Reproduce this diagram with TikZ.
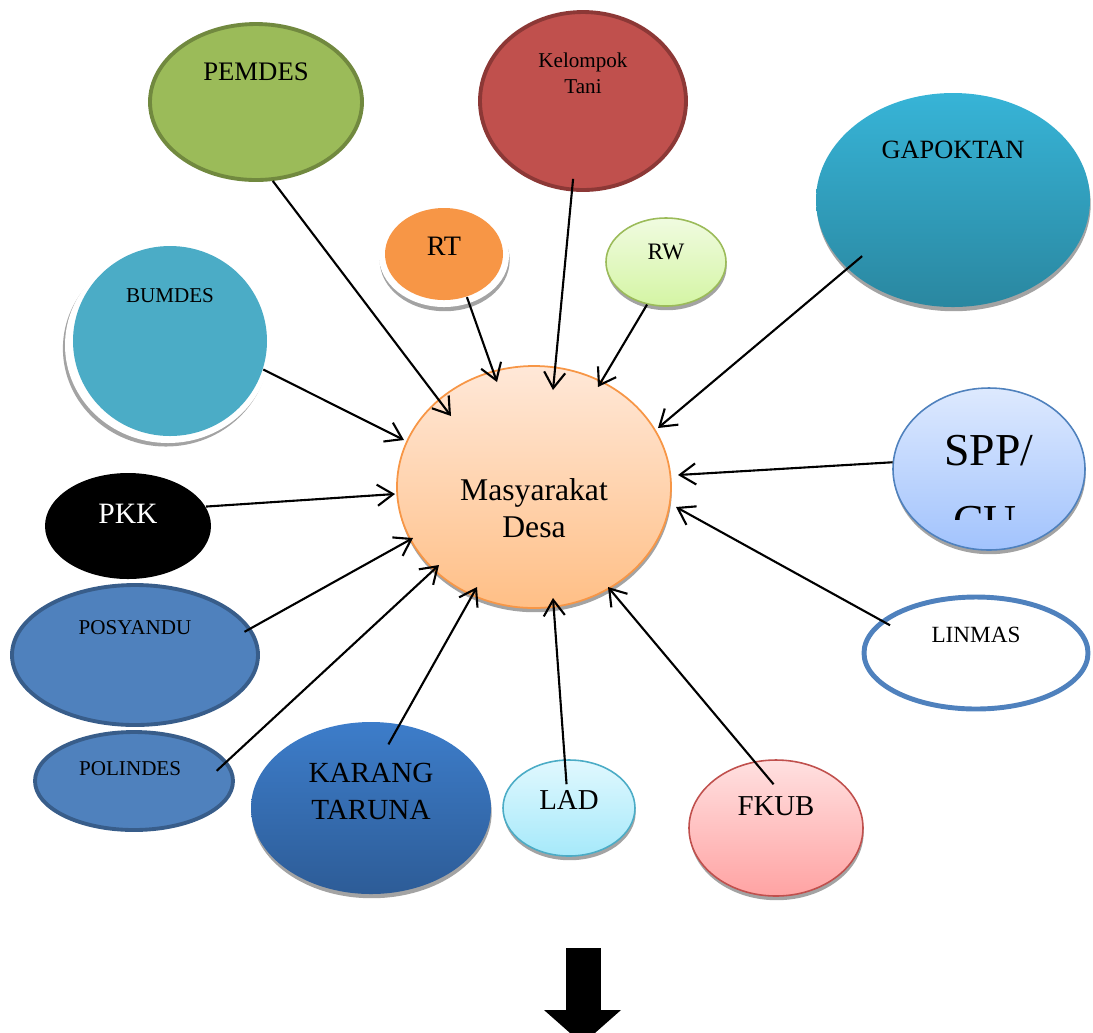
\documentclass[tikz,border=0pt]{standalone}
\usepackage{fontspec}
\setmainfont{Liberation Serif}
\usetikzlibrary{shapes.geometric,shadows,arrows.meta}
\definecolor{pemdesFill}{HTML}{9BBB59}
\definecolor{pemdesLine}{HTML}{71893F}
\definecolor{taniFill}{HTML}{C0504D}
\definecolor{taniLine}{HTML}{8C3836}
\definecolor{rtFill}{HTML}{F79646}
\definecolor{rwTop}{HTML}{F0FBE0}
\definecolor{rwBot}{HTML}{D4F5A4}
\definecolor{gapTop}{HTML}{37B4D7}
\definecolor{gapBot}{HTML}{2A87A0}
\definecolor{bumFill}{HTML}{4BACC6}
\definecolor{posFill}{HTML}{4F81BD}
\definecolor{posLine}{HTML}{385D8A}
\definecolor{karTop}{HTML}{3D7DCA}
\definecolor{karBot}{HTML}{2D5C97}
\definecolor{ladTop}{HTML}{E0F8FE}
\definecolor{ladBot}{HTML}{A6E9FA}
\definecolor{fkTop}{HTML}{FFE0E0}
\definecolor{fkBot}{HTML}{FFA3A3}
\definecolor{sppTop}{HTML}{DDE9FE}
\definecolor{sppBot}{HTML}{A2C3FD}
\definecolor{desaTop}{HTML}{FFE8D8}
\definecolor{desaBot}{HTML}{FFBF86}
\begin{document}
\begin{tikzpicture}[x=0.01cm,y=-0.01cm,
    ell/.style 2 args={ellipse, inner sep=0pt, minimum width=#1*0.01cm, minimum height=#2*0.01cm},
    txt/.style 2 args={font=\fontsize{#1}{#2}\selectfont, align=center},
    shad/.style={drop shadow={shadow xshift=0.2pt, shadow yshift=-1.2pt, fill=black!40, opacity=0.9}},
    link/.style={line width=0.6pt, -{Straight Barb[length=4.5pt, width=6pt]}}]
\useasboundingbox (0,0) rectangle (1093,1032);
\clip (0,0) rectangle (1093,1032);

\node[ell={130}{102}, fill=white, shad] (rtHalo) at (444,256) {};
\node[ell={206}{196}, fill=white, drop shadow={shadow xshift=-0.6pt, shadow yshift=-1pt, fill=black!40, opacity=0.9}] (bumHalo) at (168,345) {};

\node[ell={212}{156}, fill=pemdesFill, draw=pemdesLine, line width=1.1pt,
      label={[txt={7.6pt}{9pt}, yshift=8.5pt]center:PEMDES}] (pemdes) at (256,102) {};
\node[ell={206}{178}, fill=taniFill, draw=taniLine, line width=1.1pt,
      label={[txt={6pt}{7.4pt}, yshift=8pt]center:{Kelompok\\Tani}}] (tani) at (583,101) {};
\node[ell={118}{92}, fill=rtFill,
      label={[txt={8pt}{9pt}, yshift=2.3pt]center:RT}] (rt) at (444,254) {};
\node[ell={120}{88}, top color=rwTop, bottom color=rwBot, draw=pemdesFill, line width=0.45pt, shad,
      label={[txt={6.7pt}{8pt}, yshift=2.8pt]center:RW}] (rw) at (666,262) {};
\node[ell={274}{214}, top color=gapTop, bottom color=gapBot, shad,
      label={[txt={7.5pt}{9pt}, yshift=14.2pt]center:GAPOKTAN}] (gapoktan) at (953,200) {};
\node[ell={194}{190}, fill=bumFill,
      label={[txt={6pt}{7pt}, yshift=12.8pt]center:BUMDES}] (bumdes) at (170,341) {};
\node[ell={166}{106}, fill=black,
      label={[txt={8.4pt}{9pt}, yshift=3.4pt, text=white]center:PKK}] (pkk) at (128,526) {};
\node[ell={246}{140}, fill=posFill, draw=posLine, line width=1.1pt,
      label={[txt={6pt}{7pt}, yshift=7.7pt]center:POSYANDU}] (posyandu) at (135,655) {};
\node[ell={198}{98}, fill=posFill, draw=posLine, line width=1.1pt,
      label={[txt={6pt}{7pt}, yshift=3.4pt, xshift=-1.1pt]center:POLINDES}] (polindes) at (134,781) {};
\node[ell={240}{172}, top color=karTop, bottom color=karBot, shad,
      label={[txt={8.3pt}{10.5pt}, yshift=4.8pt]center:{KARANG\\TARUNA}}] (karang) at (371,808) {};
\node[ell={132}{96}, top color=ladTop, bottom color=ladBot, draw=bumFill, line width=0.45pt, shad,
      label={[txt={8.2pt}{9pt}, yshift=2.3pt]center:LAD}] (lad) at (569,808) {};
\node[ell={174}{136}, top color=fkTop, bottom color=fkBot, draw=taniFill, line width=0.45pt, shad,
      label={[txt={8.2pt}{9pt}, yshift=6.3pt]center:FKUB}] (fkub) at (776,828) {};
\node[ell={224}{112}, fill=white, draw=posFill, line width=1.4pt,
      label={[txt={6.6pt}{8pt}, yshift=5.1pt]center:LINMAS}] (linmas) at (976,653) {};
\node[ell={192}{162}, top color=sppTop, bottom color=sppBot, draw=posFill, line width=0.45pt, shad] (spp) at (989,469) {};
\begin{scope}
  \clip (880,380) rectangle (1093,519);
  \node[txt={13pt}{15pt}, anchor=base] (sppUp) at (989,465) {SPP/};
  \node[txt={13pt}{15pt}, anchor=base] (sppDown) at (985,536) {CU};
\end{scope}
\node[ell={274}{242}, top color=desaTop, bottom color=desaBot, draw=rtFill, line width=0.5pt, shad,
      label={[txt={9pt}{10.5pt}, yshift=-6pt]center:{Masyarakat\\Desa}}] (desa) at (534,487) {};

\coordinate (inPemdes) at (451,416);
\coordinate (inTani) at (553,390);
\coordinate (inRt) at (497,382);
\coordinate (inRw) at (598,387);
\coordinate (inGap) at (658,428);
\coordinate (inSpp) at (678,475);
\coordinate (inLin) at (676,507);
\coordinate (inFkub) at (608,587);
\coordinate (inLad) at (553,598);
\coordinate (inKar) at (477,587);
\coordinate (inPol) at (439,565);
\coordinate (inPos) at (413,538);
\coordinate (inPkk) at (395,494);
\coordinate (inBum) at (404,440);

\draw[link] (pemdes.-78) -- (inPemdes);
\draw[link, shorten <=-3.6pt] (tani.-97) -- (inTani);
\draw[link] (rt.-62) -- (inRt);
\draw[link] (rw.-114) -- (inRw);
\draw[link, shorten <=-5.6pt] (gapoktan.-147) -- (inGap);
\draw[link] (spp.176) -- (inSpp);
\draw[link, shorten <=-2.9pt] (linmas.161) -- (inLin);
\draw[link, shorten <=-8.5pt] (fkub.108) -- (inFkub);
\draw[link, shorten <=-7.1pt] (lad.95) -- (inLad);
\draw[link, shorten <=-6.7pt] (karang.71) -- (inKar);
\draw[link, shorten <=-4pt] (polindes.12) -- (inPol);
\draw[link, shorten <=-2.1pt] (posyandu.13) -- (inPos);
\draw[link] (pkk.14) -- (inPkk);
\draw[link] (bumdes.-17) -- (inBum);

\fill (566,948) rectangle (601,1010);
\fill (544,1010) -- (621,1010) -- (582.5,1044) -- cycle;
\end{tikzpicture}
\end{document}
